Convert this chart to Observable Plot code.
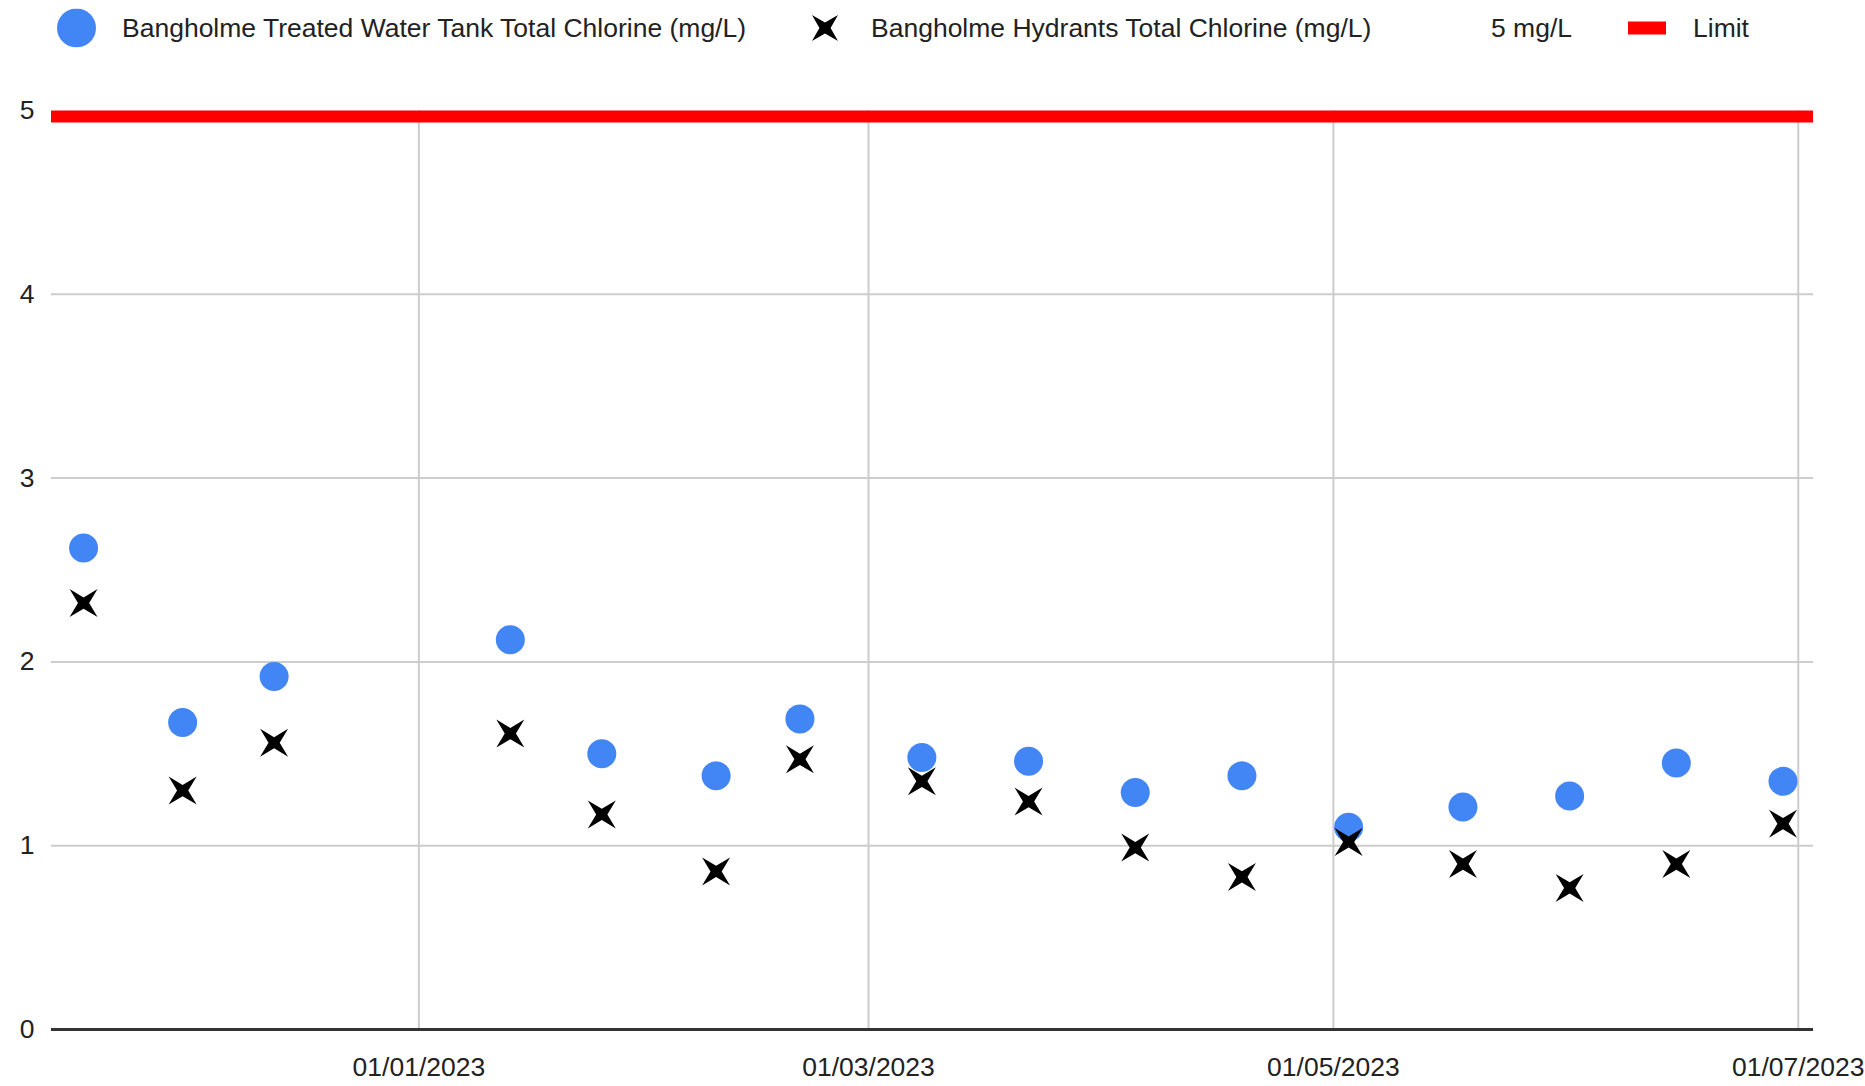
<!DOCTYPE html>
<html>
<head>
<meta charset="utf-8">
<script src="https://cdn.jsdelivr.net/npm/d3@7"></script>
<script src="https://cdn.jsdelivr.net/npm/@observablehq/plot@0.6"></script>
<style>
  html, body { margin: 0; padding: 0; background: #fff; }
  body { width: 1865px; height: 1086px; overflow: hidden; font-family: Arial, "Liberation Sans", sans-serif; color: #222; }
  #legend { position: relative; height: 50px; width: 1865px; font-size: 26.5px; }
  #legend .item { position: absolute; top: 28px; transform: translateY(-50%); white-space: nowrap; line-height: 1; }
  #chart svg { display: block; }
</style>
</head>
<body>
<div id="legend"></div>
<div id="chart"></div>
<script>
// ---- data ----
const sampleDates = ["2022-11-18","2022-12-01","2022-12-13","2023-01-13","2023-01-25","2023-02-09","2023-02-20","2023-03-08","2023-03-22","2023-04-05","2023-04-19","2023-05-03","2023-05-18","2023-06-01","2023-06-15","2023-06-29"];
const tankChlorine = [2.62, 1.67, 1.92, 2.12, 1.50, 1.38, 1.69, 1.48, 1.46, 1.29, 1.38, 1.10, 1.21, 1.27, 1.45, 1.35];
const hydrantChlorine = [2.32, 1.30, 1.56, 1.61, 1.17, 0.86, 1.47, 1.35, 1.24, 0.99, 0.83, 1.02, 0.90, 0.77, 0.90, 1.12];
const limitValue = [5];
const xTickDates = ["2023-01-01","2023-03-01","2023-05-01","2023-07-01"];
const yTickValues = [0, 1, 2, 3, 4, 5];
const xDomain = ["2022-11-13T19:00:00Z", "2023-07-03T00:00:00Z"];
const seriesNames = ["Bangholme Treated Water Tank Total Chlorine (mg/L)", "Bangholme Hydrants Total Chlorine (mg/L)", "5 mg/L", "Limit"];

const rows = sampleDates.map((d, i) => ({date: new Date(d), tank: tankChlorine[i], hydrant: hydrantChlorine[i]}));
const xTicks = xTickDates.map(d => new Date(d));

// 4-pointed star ("x" sparkle) symbol
const star4 = {
  draw(context, size) {
    const a = Math.sqrt(size / Math.PI);
    const b = a * 0.4;
    context.moveTo(a, -a);
    context.lineTo(b, 0);
    context.lineTo(a, a);
    context.lineTo(0, b);
    context.lineTo(-a, a);
    context.lineTo(-b, 0);
    context.lineTo(-a, -a);
    context.lineTo(0, -b);
    context.closePath();
  }
};

// ---- legend ----
const legend = document.getElementById("legend");
function addItem(left, html) {
  const s = document.createElement("div");
  s.className = "item";
  s.style.left = left + "px";
  s.innerHTML = html;
  legend.appendChild(s);
}
addItem(56.5, '<svg width="39" height="39" style="display:block"><circle cx="19.5" cy="19.5" r="19.5" fill="#4285f4"/></svg>');
addItem(122, seriesNames[0]);
addItem(811, '<svg width="28" height="28" style="display:block"><path d="M27,1 L19.6,14 L27,27 L14,19.6 L1,27 L8.4,14 L1,1 L14,8.4 Z" fill="#000"/></svg>');
addItem(871, seriesNames[1]);
addItem(1491, seriesNames[2]);
addItem(1628, '<div style="width:38px;height:13px;background:#ff0000"></div>');
addItem(1693, seriesNames[3]);

// ---- chart ----
const chart = Plot.plot({
  width: 1865,
  height: 1036,
  marginLeft: 51,
  marginRight: 52,
  marginTop: 60,
  marginBottom: 57,
  style: {fontFamily: 'Arial, "Liberation Sans", sans-serif', fontSize: "26.5px", color: "#222", background: "#fff", overflow: "visible"},
  x: {type: "utc", domain: xDomain.map(d => new Date(d)), ticks: xTicks, tickFormat: d3.utcFormat("%d/%m/%Y"), tickSize: 0, tickPadding: 28, label: null},
  y: {domain: [0, 5], ticks: yTickValues, tickFormat: d => String(d), tickSize: 0, tickPadding: 17, label: null},
  marks: [
    Plot.gridY(yTickValues.filter(v => v > 0 && v < 5), {stroke: "#cccccc", strokeOpacity: 1, strokeWidth: 2}),
    Plot.gridX(xTicks, {stroke: "#cccccc", strokeOpacity: 1, strokeWidth: 2}),
    Plot.ruleY([0], {stroke: "#333333", strokeWidth: 3}),
    Plot.ruleY(limitValue, {stroke: "#ff0000", strokeWidth: 12, dy: 6}),
    Plot.dot(rows, {x: "date", y: "tank", r: 14.5, fill: "#4285f4", stroke: "none"}),
    Plot.dot(rows, {x: "date", y: "hydrant", r: 14, symbol: star4, fill: "#000", stroke: "none"})
  ]
});
document.getElementById("chart").appendChild(chart);
</script>
</body>
</html>
